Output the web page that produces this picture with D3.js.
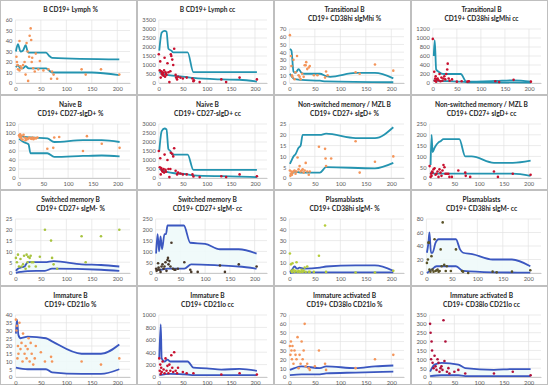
<!DOCTYPE html>
<html><head><meta charset="utf-8">
<script src="https://cdn.jsdelivr.net/npm/d3@7"></script>
<style>body{margin:0;background:#fff}svg{display:block}</style>
</head><body><svg id="c" width="550" height="386"></svg>
<script>
// ---------- DATA ----------
const titles = [
  ["B CD19+ Lymph %"], ["B CD19+ Lymph cc"],
  ["Transitional B","CD19+ CD38hi sIgMhi %"], ["Transitional B","CD19+ CD38hi sIgMhi cc"],
  ["Naive B","CD19+ CD27-sIgD+ %"], ["Naive B","CD19+ CD27-sIgD+ cc"],
  ["Non-switched memory / MZL B","CD19+ CD27+ sIgD+ %"], ["Non-switched memory / MZL B","CD19+ CD27+ sIgD+ cc"],
  ["Switched memory B","CD19+ CD27+ sIgM- %"], ["Switched memory B","CD19+ CD27+ sIgM- cc"],
  ["Plasmablasts","CD19+ CD38hi sIgM- %"], ["Plasmablasts","CD19+ CD38hi sIgM- cc"],
  ["Immature B","CD19+ CD21lo %"], ["Immature B","CD19+ CD21lo cc"],
  ["Immature activated B","CD19+ CD38lo CD21lo %"], ["Immature activated B","CD19+ CD38lo CD21lo cc"]
];
const xTicks = [0, 50, 100, 150, 200];
const yMaxes = [60, 3500, 70, 1200, 120, 3000, 25, 250, 25, 250, 50, 80, 40, 1000, 70, 350];
const ySteps = [10, 500, 10, 200, 20, 500, 5, 50, 5, 50, 10, 20, 5, 200, 10, 50];

const p1Upper = [[1,30],[5,37],[10,30],[15,31],[20,36],[25,29],[60,29],[66,26],[72,24],[204,22.5]];
const p1Lower = [[1,15],[5,17],[10,14],[15,14],[20,16],[26,14],[60,14],[66,12],[72,10],[150,10],[204,7.5]];
const p1Dots = [[2,25],[3,20],[4,17],[5,13],[8,40],[8,12],[10,16],[12,14],[15,17],[18,20],[20,8],[22,38],[24,30],[25,2],[27,25],[28,45],[30,52],[31,41],[32,20],[33,24],[35,14],[38,11],[40,28],[45,13],[48,21],[55,12],[65,13],[70,4],[72,11],[75,8],[82,4],[130,13],[138,8],[168,13],[204,8]];

const p2Upper = [[1,1800],[6,2800],[12,2900],[16,2850],[20,1900],[26,1800],[30,1700],[60,1700],[72,600],[204,600]];
const p2Lower = [[1,600],[10,500],[24,420],[40,380],[60,320],[72,280],[130,200],[168,180],[204,80]];
const p2Dots = [[0,1600],[2,700],[3,1200],[4,300],[5,650],[6,500],[7,600],[8,450],[9,550],[10,400],[11,700],[12,1400],[13,350],[14,600],[15,500],[16,450],[18,1100],[20,600],[22,50],[24,650],[25,1600],[26,1500],[28,1300],[30,1000],[32,1900],[35,450],[36,300],[38,200],[40,350],[45,300],[50,250],[58,300],[70,250],[72,100],[73,150],[85,50],[130,200],[140,50],[168,300],[204,200]];

const p3Upper = [[1,44],[4,42],[8,15],[12,13],[18,18],[24,13],[30,12],[60,12],[72,9],[80,8],[130,13],[168,13],[204,6]];
const p3Lower = [[1,12],[5,8],[10,5],[24,4],[60,3],[72,2],[204,1]];
const p3Dots = [[1,62],[3,35],[4,22],[5,10],[6,8],[8,30],[10,5],[12,14],[15,35],[18,10],[20,8],[22,5],[25,12],[28,8],[30,23],[32,23],[33,27],[35,18],[38,20],[40,22],[48,10],[55,10],[70,7],[72,15],[75,10],[130,14],[138,12],[168,24],[204,16]];

const p4Upper = [[2,600],[4,950],[7,300],[12,250],[18,210],[24,200],[58,200],[70,30],[130,45],[168,60],[204,30]];
const p4Lower = [[1,60],[10,50],[30,40],[60,30],[72,15],[204,10]];
const p4Dots = [[0,980],[3,250],[4,50],[5,100],[6,150],[7,30],[8,80],[10,100],[12,60],[14,200],[16,40],[18,120],[20,50],[22,100],[24,150],[26,80],[28,200],[30,300],[31,430],[33,100],[35,50],[40,80],[50,30],[60,40],[72,30],[75,40],[130,40],[138,20],[168,70],[204,30]];

const p5Upper = [[1,93],[10,92],[24,90],[58,88],[72,80],[130,84],[168,84],[204,80]];
const p5Lower = [[1,87],[10,80],[20,75],[24,55],[58,55],[72,47],[130,49],[168,50],[204,48]];
const p5Dots = [[1,95],[2,92],[3,97],[4,90],[5,88],[6,94],[8,85],[10,96],[12,90],[14,84],[15,88],[18,86],[20,89],[22,90],[24,88],[26,87],[28,90],[30,86],[32,89],[35,88],[38,90],[58,65],[70,67],[72,90],[82,91],[130,60],[138,93],[168,76],[204,67]];

const p6Upper = [[1,1500],[6,2600],[12,2750],[16,2700],[20,1600],[24,1500],[28,1300],[60,1300],[72,450],[204,450]];
const p6Lower = [[1,500],[10,400],[24,300],[60,200],[72,150],[130,100],[168,80],[204,50]];
const p6Dots = [[0,1500],[2,600],[3,1100],[4,200],[5,550],[6,450],[7,400],[8,350],[10,500],[11,300],[12,1300],[14,450],[15,350],[18,1000],[20,500],[22,50],[24,500],[25,1400],[28,1350],[30,1200],[32,1650],[35,400],[38,200],[40,300],[45,250],[50,200],[58,200],[70,200],[72,80],[85,50],[130,100],[140,50],[168,200],[204,100]];

const p7Upper = [[1,6.5],[4,8],[8,10],[12,11],[18,14],[22,15],[26,20],[60,20],[72,20.5],[130,18.5],[168,18.5],[204,23.5]];
const p7Lower = [[1,1.8],[5,2],[10,3],[24,2.5],[60,2.5],[72,5],[168,4.5],[204,7]];
const p7Dots = [[1,3.5],[2,1],[3,2],[4,3],[5,1.5],[6,2.5],[8,3],[10,3.5],[12,2],[14,3],[16,9.5],[18,4],[20,5.5],[22,3],[24,3.5],[26,4],[28,2.5],[30,3.5],[32,7],[35,3],[38,1.5],[40,3],[58,14.5],[70,13.5],[71,9],[72,5.5],[82,9],[130,17],[138,2.5],[168,7.5],[204,10]];

const p8Upper = [[2,60],[4,200],[6,120],[10,140],[18,165],[22,170],[28,180],[60,180],[72,100],[85,100],[130,70],[168,70],[204,80]];
const p8Lower = [[1,25],[10,20],[60,20],[130,20],[168,20],[204,10]];
const p8Dots = [[0,55],[2,5],[3,20],[4,10],[5,30],[6,25],[8,40],[10,45],[12,15],[14,20],[16,30],[18,5],[20,40],[22,25],[24,10],[26,35],[28,60],[30,50],[32,20],[35,20],[38,20],[40,5],[45,5],[58,35],[72,25],[73,10],[82,5],[130,30],[138,5],[168,20],[204,15]];

const p9Upper = [[1,1],[5,2],[10,2.5],[18,3],[24,5],[58,5],[75,5.5],[130,4],[168,3.7],[204,3]];
const p9Lower = [[1,0.1],[10,0.5],[24,0.9],[58,1],[72,2],[168,1.5],[204,1]];
const p9Dots = [[1,7],[3,5],[5,8.5],[7,3],[10,6.5],[12,3],[15,4],[17,8],[20,2],[22,8.5],[24,5],[25,7.5],[27,3],[28,7],[30,8],[32,5],[35,5],[40,3],[48,7.5],[58,20],[70,15],[72,7],[75,4],[82,2],[130,17],[138,5],[168,17],[204,20]];

const p10Upper = [[1,90],[4,180],[7,100],[10,170],[13,110],[18,180],[21,180],[24,220],[57,220],[70,140],[100,135],[130,110],[168,110],[204,90]];
const p10Lower = [[1,15],[10,15],[24,20],[58,20],[72,40],[130,35],[168,30],[204,20]];
const p10Dots = [[1,20],[2,10],[4,15],[5,45],[6,25],[8,15],[10,5],[12,30],[14,40],[16,20],[18,30],[20,50],[22,10],[24,60],[25,70],[26,40],[28,55],[30,30],[32,140],[35,20],[38,15],[40,15],[45,20],[58,50],[70,15],[72,5],[85,5],[130,35],[140,5],[168,40],[204,30]];

const p11Upper = [[1,1],[5,3],[10,6],[15,4],[20,5],[28,4],[60,5],[72,6],[130,7],[168,7],[204,2]];
const p11Lower = [[1,0],[10,0.5],[60,0.5],[204,0.5]];
const p11Dots = [[1,18],[3,8],[4,2],[5,1],[6,9],[8,3],[10,1],[12,2],[14,10],[16,1],[18,2],[20,1],[22,1],[24,3],[26,1],[28,2],[30,5],[32,1],[35,6],[38,1],[40,1],[48,1],[58,16],[70,44],[72,1],[130,0.5],[168,0.5],[204,2]];

const p12Upper = [[1,30],[4,45],[6,60],[9,30],[12,30],[18,45],[24,50],[58,50],[66,35],[72,30],[90,28],[130,20],[168,20],[204,10]];
const p12Lower = [[1,0],[10,5],[20,10],[58,10],[72,3],[130,1],[204,0.5]];
const p12Dots = [[1,15],[3,20],[4,45],[5,45],[6,5],[8,2],[10,25],[12,5],[14,2],[16,50],[18,3],[20,4],[22,5],[24,2],[26,3],[28,35],[30,10],[32,75],[35,12],[38,3],[40,10],[48,3],[58,35],[70,3],[72,2],[82,0],[130,2],[138,1],[168,2],[204,4]];

const p13Upper = [[1,28],[3,37],[6,27],[10,25],[24,26],[60,25],[72,23],[130,15],[168,15],[204,21]];
const p13Lower = [[1,6],[24,5],[60,5],[72,3],[130,2],[168,2],[204,5]];
const p13Dots = [[1,37],[2,30],[3,33],[4,12],[5,20],[6,15],[8,35],[10,18],[12,22],[14,10],[15,28],[18,15],[20,20],[22,12],[24,18],[26,25],[28,10],[30,22],[32,15],[35,8],[38,12],[40,20],[50,16],[58,10],[70,13],[72,10],[130,10],[168,8],[204,12]];

const p14Upper = [[1,300],[4,850],[6,300],[12,250],[18,280],[24,250],[60,250],[72,150],[100,140],[130,120],[168,130],[204,100]];
const p14Lower = [[1,30],[24,50],[60,40],[72,30],[204,30]];
const p14Dots = [[1,300],[2,100],[3,200],[4,50],[5,150],[6,80],[8,250],[10,120],[12,60],[14,300],[16,100],[18,180],[20,60],[22,200],[24,100],[26,350],[28,150],[30,80],[32,400],[35,100],[38,60],[40,150],[50,80],[58,60],[72,60],[130,40],[168,60],[204,40]];

const p15Upper = [[1,8],[10,10],[24,12],[60,10],[72,12],[130,10],[168,12],[204,13]];
const p15Lower = [[1,2],[24,3],[60,3],[72,4],[130,5],[204,6]];
const p15Dots = [[1,35],[2,25],[3,40],[4,30],[5,20],[6,35],[8,15],[10,30],[12,25],[14,20],[16,45],[18,10],[20,25],[22,15],[24,40],[26,20],[28,30],[30,60],[32,12],[35,15],[38,10],[40,8],[50,12],[58,30],[70,15],[72,8],[130,10],[168,20],[204,25]];

const p16Upper = [[1,30],[10,70],[24,80],[58,70],[72,50],[130,40],[168,45],[204,45]];
const p16Lower = [[1,5],[24,10],[58,10],[72,5],[204,5]];
const p16Dots = [[1,300],[2,250],[3,100],[4,200],[5,150],[6,80],[8,50],[10,120],[12,60],[14,40],[16,100],[18,80],[20,30],[22,50],[24,60],[26,40],[28,320],[30,90],[32,200],[35,30],[38,50],[40,20],[50,30],[58,40],[72,20],[130,20],[168,30],[204,10]];

const uppers = [p1Upper,p2Upper,p3Upper,p4Upper,p5Upper,p6Upper,p7Upper,p8Upper,p9Upper,p10Upper,p11Upper,p12Upper,p13Upper,p14Upper,p15Upper,p16Upper];
const lowers = [p1Lower,p2Lower,p3Lower,p4Lower,p5Lower,p6Lower,p7Lower,p8Lower,p9Lower,p10Lower,p11Lower,p12Lower,p13Lower,p14Lower,p15Lower,p16Lower];
const dotsAll = [p1Dots,p2Dots,p3Dots,p4Dots,p5Dots,p6Dots,p7Dots,p8Dots,p9Dots,p10Dots,p11Dots,p12Dots,p13Dots,p14Dots,p15Dots,p16Dots];

// ---------- STYLE ----------
const lineColors = ["#2494b0","#2494b0","#2494b0","#2494b0","#2494b0","#2494b0","#2494b0","#2494b0",
  "#3b57c0","#3b57c0","#3b57c0","#3b57c0","#3b57c0","#3b57c0","#3b57c0","#3b57c0"];
const dotColors = ["#f4955a","#c8102e","#f4955a","#c8102e","#f4955a","#c8102e","#f4955a","#c8102e",
  "#a8c440","#4a3a2a","#b5cc3a","#5a5228","#f4955a","#c8102e","#f4955a","#b0103a"];
const colX = [0, 137, 274, 411];
const rowY = [0, 95, 190, 286];
const rowH = [95, 95, 96, 99];
const rowBottom = [83, 83, 83, 91];

const svg = d3.select("#c");
svg.append("rect").attr("x",0).attr("y",0).attr("width",550).attr("height",386).attr("fill","#fff");

titles.forEach((t, i) => {
  const r = Math.floor(i / 4), c = i % 4;
  const px = colX[c], py = rowY[r], pw = (c === 3 ? 548 - px : 137), ph = rowH[r];
  const g = svg.append("g");
  g.append("rect").attr("x", px + 0.5).attr("y", py + 0.5).attr("width", pw - 1).attr("height", ph - 1)
    .attr("fill", "#fff").attr("stroke", "#bfbfbf").attr("stroke-width", 1);
  t.forEach((line, k) => {
    g.append("text").attr("x", px + pw / 2 + 2).attr("y", py + 12 + k * 9)
      .attr("text-anchor", "middle").attr("font-family", "Lato, 'Open Sans', sans-serif")
      .attr("font-weight", "bold").attr("font-size", "6.6px").attr("fill", "#262626").text(line);
  });
  const top = py + (t.length === 1 ? 20 : 29);
  const bottom = py + rowBottom[r];
  const yt = d3.range(0, yMaxes[i] + ySteps[i] / 2, ySteps[i]);
  const labW = String(yMaxes[i]).length * 3.2;
  const left = px + 9 + labW;
  const right = px + 130;
  const x = d3.scaleLinear().domain([0, 225]).range([left, right]);
  const y = d3.scaleLinear().domain([0, yMaxes[i]]).range([bottom, top]);

  // gridlines
  g.append("g").selectAll("line").data(yt).join("line")
    .attr("x1", left).attr("x2", right).attr("y1", d => y(d)).attr("y2", d => y(d))
    .attr("stroke", "#e3e3e3").attr("stroke-width", 0.7);
  g.append("g").selectAll("line").data(xTicks).join("line")
    .attr("x1", d => x(d)).attr("x2", d => x(d)).attr("y1", top).attr("y2", bottom)
    .attr("stroke", "#e3e3e3").attr("stroke-width", 0.7);

  // axes
  const ya = d3.axisLeft(y).tickValues(yt).tickSize(0).tickPadding(3).tickFormat(d3.format("d"));
  const ga = g.append("g").attr("transform", `translate(${left},0)`).call(ya);
  ga.select(".domain").remove();
  const xa = d3.axisBottom(x).tickValues(xTicks).tickSize(0).tickPadding(4).tickFormat(d3.format("d"));
  const gx = g.append("g").attr("transform", `translate(0,${bottom})`).call(xa);
  gx.select(".domain").attr("stroke", "#bfbfbf").attr("stroke-width", 0.8);
  g.selectAll(".tick text").attr("font-family", "Lato, 'Open Sans', sans-serif")
    .attr("font-size", "5.8px").attr("fill", "#595959");

  // faint band fill for lower rows
  if (r >= 2) {
    const up = uppers[i], lo = lowers[i];
    const xs = Array.from(new Set(up.map(d => d[0]).concat(lo.map(d => d[0])))).sort((a, b) => a - b);
    const interp = (arr, xv) => {
      if (xv <= arr[0][0]) return arr[0][1];
      for (let k = 1; k < arr.length; k++) {
        if (xv <= arr[k][0]) {
          const a = arr[k - 1], b = arr[k];
          return a[1] + (b[1] - a[1]) * (xv - a[0]) / (b[0] - a[0]);
        }
      }
      return arr[arr.length - 1][1];
    };
    const area = d3.area().x(d => x(d)).y0(d => y(interp(lo, d))).y1(d => y(interp(up, d)));
    g.append("path").attr("d", area(xs)).attr("fill", "#eef9fa").attr("opacity", 0.9);
  }

  const line = d3.line().x(d => x(d[0])).y(d => y(d[1])).curve(d3.curveMonotoneX);
  [uppers[i], lowers[i]].forEach(arr => {
    g.append("path").attr("d", line(arr)).attr("fill", "none")
      .attr("stroke", lineColors[i]).attr("stroke-width", 1.8);
  });

  g.append("g").selectAll("circle").data(dotsAll[i]).join("circle")
    .attr("cx", d => x(d[0])).attr("cy", d => y(d[1])).attr("r", 1.3)
    .attr("fill", dotColors[i]);
});
</script>
</body></html>
